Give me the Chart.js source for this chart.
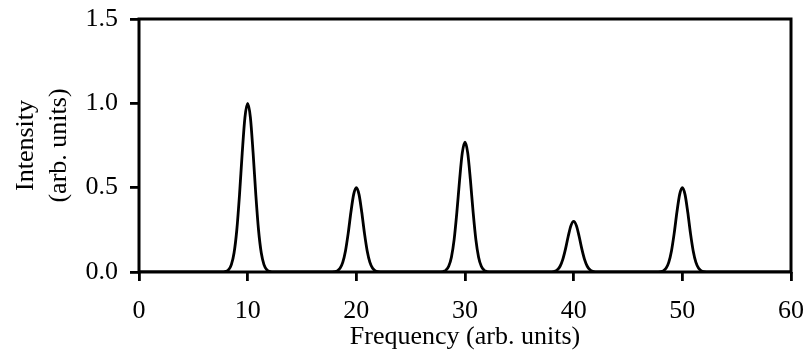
<!DOCTYPE html>
<html>
<head>
<meta charset="utf-8">
<script src="https://cdn.jsdelivr.net/npm/chart.js@4"></script>
<style>
  html, body { margin: 0; padding: 0; background: #fff; }
  #wrap { width: 803px; height: 358px; }
</style>
</head>
<body>
<div id="wrap"><canvas id="specChart"></canvas></div>
<script>
// ─── data ─────────────────────────────────────────────────
const xTicks = [0, 10, 20, 30, 40, 50, 60];
const yTicks = [0, 0.5, 1.0, 1.5];

// one row per peak
const frequency = [
  0,
  7.5, 8, 8.25, 8.5, 8.75, 9, 9.25, 9.5, 9.75, 10, 10.25, 10.5, 10.75, 11, 11.25, 11.5, 11.75, 12, 12.5,
  17.5, 18, 18.25, 18.5, 18.75, 19, 19.25, 19.5, 19.75, 20, 20.25, 20.5, 20.75, 21, 21.25, 21.5, 21.75, 22, 22.5,
  27.5, 28, 28.25, 28.5, 28.75, 29, 29.25, 29.5, 29.75, 30, 30.25, 30.5, 30.75, 31, 31.25, 31.5, 31.75, 32, 32.5,
  37.5, 38, 38.25, 38.5, 38.75, 39, 39.25, 39.5, 39.75, 40, 40.25, 40.5, 40.75, 41, 41.25, 41.5, 41.75, 42, 42.5,
  47.5, 48, 48.25, 48.5, 48.75, 49, 49.25, 49.5, 49.75, 50, 50.25, 50.5, 50.75, 51, 51.25, 51.5, 51.75, 52, 52.5,
  60
];
const intensity = [
  0,
  0, 0.004, 0.014, 0.044, 0.114, 0.249, 0.458, 0.707, 0.917, 1.0, 0.917, 0.707, 0.458, 0.249, 0.114, 0.044, 0.014, 0.004, 0,
  0, 0.002, 0.007, 0.022, 0.057, 0.125, 0.229, 0.354, 0.459, 0.5, 0.459, 0.354, 0.229, 0.125, 0.057, 0.022, 0.007, 0.002, 0,
  0, 0.003, 0.011, 0.034, 0.088, 0.192, 0.353, 0.544, 0.706, 0.77, 0.706, 0.544, 0.353, 0.192, 0.088, 0.034, 0.011, 0.003, 0,
  0, 0.001, 0.004, 0.013, 0.034, 0.075, 0.137, 0.212, 0.275, 0.3, 0.275, 0.212, 0.137, 0.075, 0.034, 0.013, 0.004, 0.001, 0,
  0, 0.002, 0.007, 0.022, 0.057, 0.125, 0.229, 0.354, 0.459, 0.5, 0.459, 0.354, 0.229, 0.125, 0.057, 0.022, 0.007, 0.002, 0,
  0
];

const FONT = '"Liberation Serif", "Times New Roman", serif';

// closed frame around the plot area
const framePlugin = {
  id: 'frame',
  afterDraw(chart) {
    const { ctx, chartArea: a } = chart;
    ctx.save();
    ctx.strokeStyle = '#000';
    ctx.lineWidth = 3;
    ctx.strokeRect(a.left, a.top, a.right - a.left, a.bottom - a.top);
    ctx.restore();
  }
};

// no extra room for the end labels, layout padding handles it
const noEdgePad = s => { s.paddingTop = 0; s.paddingBottom = 0; s.paddingLeft = 0; s.paddingRight = 0; };

new Chart(document.getElementById('specChart'), {
  type: 'line',
  data: {
    datasets: [{
      data: frequency.map((f, i) => ({ x: f, y: intensity[i] })),
      borderColor: '#000',
      borderWidth: 2.8,
      pointRadius: 0,
      fill: false,
      cubicInterpolationMode: 'monotone'
    }]
  },
  options: {
    responsive: true,
    maintainAspectRatio: false,
    animation: false,
    layout: { padding: { top: 19, right: 12, left: 0, bottom: 0 } },
    plugins: { legend: { display: false }, tooltip: { enabled: false } },
    scales: {
      x: {
        type: 'linear',
        min: 0, max: 60,
        afterBuildTicks: s => { s.ticks = xTicks.map(v => ({ value: v })); },
        afterFit: s => { s.height = 86; noEdgePad(s); },
        border: { display: false },
        grid: { drawOnChartArea: false, drawTicks: true, tickLength: 9, color: '#000', lineWidth: 2.8 },
        ticks: { color: '#000', padding: 15, maxRotation: 0, font: { family: FONT, size: 26 } },
        title: {
          display: true, text: 'Frequency (arb. units)', color: '#000',
          padding: { top: 0, bottom: 5 },
          font: { family: FONT, size: 26 }
        }
      },
      y: {
        min: 0, max: 1.5,
        afterBuildTicks: s => { s.ticks = yTicks.map(v => ({ value: v })); },
        afterFit: s => { s.width = 139; noEdgePad(s); },
        border: { display: false },
        grid: { drawOnChartArea: false, drawTicks: true, tickLength: 9, color: '#000', lineWidth: 2.8 },
        ticks: { color: '#000', padding: 12, callback: v => v.toFixed(1), font: { family: FONT, size: 26 } },
        title: {
          display: true, text: ['Intensity', '(arb. units)'], color: '#000',
          padding: { top: 10, bottom: 0 },
          font: { family: FONT, size: 26, lineHeight: 1.27 }
        }
      }
    }
  },
  plugins: [framePlugin]
});
</script>
</body>
</html>
